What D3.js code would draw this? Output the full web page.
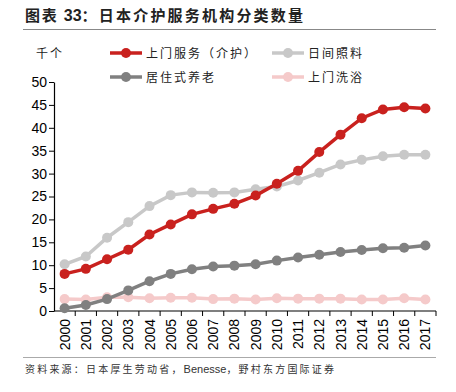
<!DOCTYPE html>
<html><head><meta charset="utf-8">
<script src="https://cdn.jsdelivr.net/npm/d3@7/dist/d3.min.js"></script>
<style>body{margin:0;background:#fff}svg{display:block}</style>
</head><body><svg id="c" width="456" height="392"></svg>
<script>
const years = ["2000","2001","2002","2003","2004","2005","2006","2007","2008","2009","2010","2011","2012","2013","2014","2015","2016","2017"];
const homeCare = [8.1,9.2,11.3,13.4,16.7,18.9,21.1,22.3,23.4,25.2,27.8,30.6,34.7,38.5,42.1,44.0,44.5,44.2];
const dayCare = [10.2,11.9,16.0,19.4,22.9,25.3,25.9,25.8,25.9,26.6,27.2,28.5,30.2,32.0,33.0,33.8,34.1,34.1];
const residential = [0.6,1.3,2.6,4.5,6.5,8.1,9.1,9.7,9.9,10.2,11.0,11.7,12.3,12.9,13.3,13.7,13.8,14.3];
const bathing = [2.6,2.5,3.0,3.0,2.8,2.9,2.9,2.6,2.7,2.5,2.8,2.7,2.7,2.7,2.5,2.5,2.8,2.5];
const yTicks = [0,5,10,15,20,25,30,35,40,45,50];
const seriesNames = ["上门服务（介护）","日间照料","居住式养老","上门洗浴"];
const seriesColors = ["#C9211E","#C8C8C8","#808080","#F5CACA"];

const series = [
  {name:seriesNames[0], color:seriesColors[0], values:homeCare},
  {name:seriesNames[1], color:seriesColors[1], values:dayCare},
  {name:seriesNames[2], color:seriesColors[2], values:residential},
  {name:seriesNames[3], color:seriesColors[3], values:bathing}
];
const drawOrder = [3,2,1,0];

const svg = d3.select("#c");
const font = "'Liberation Sans', Arial, sans-serif";
const cjk = "'Noto Sans CJK SC', sans-serif";

// title
const t = svg.append("text").attr("x",25).attr("y",21).attr("font-family",cjk).attr("font-weight","bold")
  .attr("font-size",15).attr("fill","#222");
t.append("tspan").attr("letter-spacing",1.8).text("图表 ");
t.append("tspan").attr("font-family",font).attr("font-size",16).text("33");
t.append("tspan").attr("letter-spacing",2.2).text("：日本介护服务机构分类数量");
svg.append("line").attr("x1",23).attr("x2",436).attr("y1",29.5).attr("y2",29.5).attr("stroke","#888").attr("stroke-width",1.2);
svg.append("line").attr("x1",23).attr("x2",436).attr("y1",357.5).attr("y2",357.5).attr("stroke","#aaa").attr("stroke-width",1);
const src = svg.append("text").attr("x",25).attr("y",373).attr("font-family",cjk).attr("font-size",10).attr("fill","#333");
src.append("tspan").attr("letter-spacing",2.2).text("资料来源：日本厚生劳动省，");
src.append("tspan").attr("font-family",font).attr("font-size",11).text("Benesse");
src.append("tspan").attr("letter-spacing",2.2).text("，野村东方国际证券");

const x = d3.scaleBand().domain(years).range([54,436]);
const y = d3.scaleLinear().domain([0,50]).range([311,82]);

// axes
const yAxis = svg.append("g").attr("transform","translate(54,0)")
  .call(d3.axisLeft(y).tickValues(yTicks).tickSize(5).tickSizeOuter(0));
yAxis.select(".domain").attr("stroke","#000").attr("stroke-width",1.2);
yAxis.selectAll(".tick line").attr("stroke","#000");
yAxis.selectAll("text").attr("font-family",font).attr("font-size",14).attr("fill","#000").attr("x",-7);

const xg = svg.append("g").attr("transform","translate(0,311)");
xg.append("line").attr("x1",54).attr("x2",436).attr("stroke","#000").attr("stroke-width",1.2);
years.forEach((yr,i)=>{
  const bx = x(yr) + x.bandwidth();
  xg.append("line").attr("x1",bx).attr("x2",bx).attr("y1",0).attr("y2",5).attr("stroke","#000");
  xg.append("text").attr("transform",`translate(${x(yr)+x.bandwidth()/2+5},8) rotate(-90)`)
    .attr("text-anchor","end").attr("font-family",font).attr("font-size",14).attr("fill","#000").text(yr);
});

const line = d3.line().x((d,i)=>x(years[i])+x.bandwidth()/2).y(d=>y(d));
drawOrder.forEach(k=>{
  const s = series[k];
  const g = svg.append("g");
  g.append("path").datum(s.values).attr("d",line).attr("fill","none").attr("stroke",s.color).attr("stroke-width",3.5);
  g.selectAll("circle").data(s.values).join("circle")
    .attr("cx",(d,i)=>x(years[i])+x.bandwidth()/2).attr("cy",d=>y(d)).attr("r",5).attr("fill",s.color);
});

// legend
svg.append("text").attr("x",36).attr("y",58).attr("font-family",cjk).attr("font-size",12).attr("letter-spacing",2)
  .attr("fill","#222").text("千个");
const legPos = [[110,53],[272,53],[110,77],[272,77]];
series.forEach((s,i)=>{
  const [lx,ly] = legPos[i];
  svg.append("line").attr("x1",lx).attr("x2",lx+32).attr("y1",ly).attr("y2",ly).attr("stroke",s.color).attr("stroke-width",3.5);
  svg.append("circle").attr("cx",lx+16).attr("cy",ly).attr("r",5).attr("fill",s.color);
  svg.append("text").attr("x",lx+36).attr("y",ly+5).attr("font-family",cjk).attr("font-size",12).attr("letter-spacing",2)
    .attr("fill","#222").text(s.name);
});
</script></body></html>
